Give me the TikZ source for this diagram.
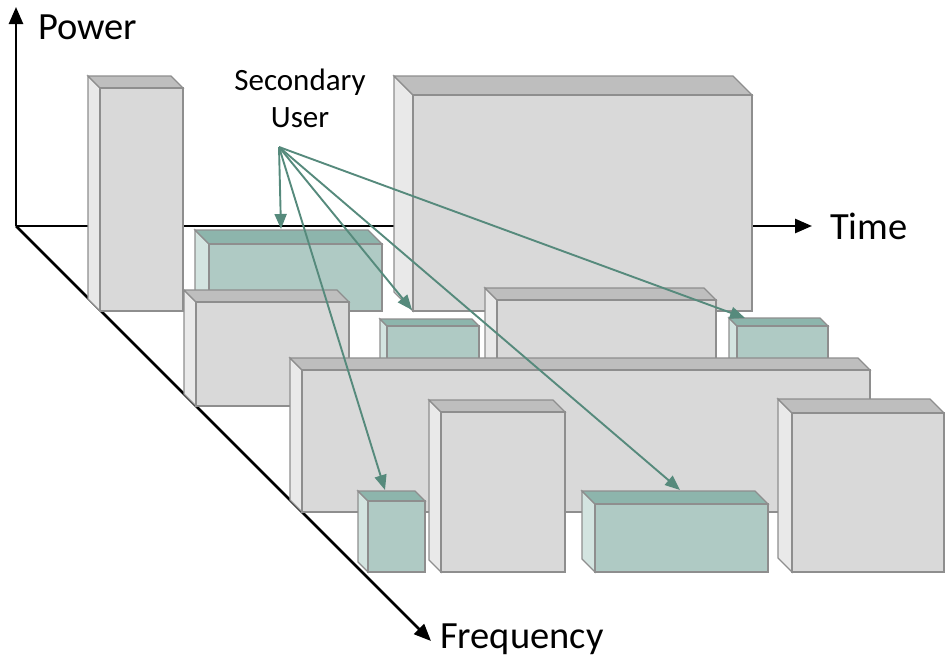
\documentclass[tikz,border=0pt]{standalone}
\usepackage{fontspec}
\setmainfont{Carlito}
\usetikzlibrary{arrows.meta}

% face colours of the spectrum blocks
\definecolor{grayfront}{HTML}{D9D9D9}
\definecolor{graytop}{HTML}{BEBEBE}
\definecolor{grayside}{HTML}{E9E9E9}
\definecolor{greenfront}{HTML}{AFCAC4}
\definecolor{greentop}{HTML}{8DB5AC}
\definecolor{greenside}{HTML}{D3E4E0}
\definecolor{boxline}{HTML}{8E8E8E}
\definecolor{suline}{HTML}{568A7C}

\tikzset{
  boxedge/.style={draw=boxline, line width=1.2pt, line join=miter},
  axisline/.style={line width=2.6pt, black, -{Triangle[length=17pt,width=14pt]}},
  suarrow/.style={line width=1.9pt, suline, -{Triangle[length=15pt,width=12pt]}},
  biglabel/.style={font=\fontsize{38.5}{44}\selectfont, inner sep=0pt},
  sulabel/.style={font=\fontsize{31}{37}\selectfont, inner sep=0pt, align=center}
}

% a block seen in oblique view: #1 palette, front face (#2,#3)-(#4,#5), depth #6
\newcommand\spectrumblock[6]{%
  \filldraw[boxedge, fill=#1side] ({#2-#6},{#3-#6}) -- (#2,#3) -- (#2,#5) -- ({#2-#6},{#5-#6}) -- cycle;
  \filldraw[boxedge, fill=#1top] ({#2-#6},{#3-#6}) -- ({#4-#6},{#3-#6}) -- (#4,#3) -- (#2,#3) -- cycle;
  \filldraw[boxedge, fill=#1front] (#2,#3) rectangle (#4,#5);
}

\begin{document}
\begin{tikzpicture}[x=1pt, y=-1pt]
\useasboundingbox (0,0) rectangle (945,656);

% axes
\coordinate (O) at (16,226);
\coordinate (powertip) at (16,7);
\coordinate (timetip) at (812,226);
\coordinate (freqtip) at (431,641);
\draw[axisline] (O) -- (powertip);
\draw[axisline] (O) -- (timetip);
\draw[axisline] (O) -- (freqtip);

\node[biglabel, anchor=base west] (power) at (38,39) {Power};
\node[biglabel, anchor=base west] (time) at (830,239) {Time};
\node[biglabel, anchor=base west] (freq) at (440,648) {Frequency};

% first row
\spectrumblock{gray}{100}{88}{183}{311}{12}
\spectrumblock{gray}{413}{95}{752}{311}{19}
\spectrumblock{green}{209}{244}{382}{311}{14}
% second row
\spectrumblock{gray}{196}{302}{349}{406}{12}
\spectrumblock{green}{387}{326}{479}{420}{7}
\spectrumblock{gray}{497}{300}{716}{420}{12}
\spectrumblock{green}{737}{326}{828}{420}{8}
% third row
\spectrumblock{gray}{302}{370}{870}{512}{12}
% fourth row
\spectrumblock{green}{368}{501}{425}{572}{10}
\spectrumblock{gray}{441}{412}{565}{572}{12}
\spectrumblock{green}{595}{504}{768}{572}{13}
\spectrumblock{gray}{792}{413}{944}{572}{14}

% secondary user and its spectrum holes
\node[sulabel, anchor=base] (secuser) at (300,127) {Secondary\\User};
\coordinate (su) at (279,147);
\coordinate (holeA) at (281,229);
\coordinate (holeB) at (385,490);
\coordinate (holeC) at (412,310);
\coordinate (holeD) at (680,490);
\coordinate (holeE) at (745,318);
\draw[suarrow] (su) -- (holeA);
\draw[suarrow] (su) -- (holeB);
\draw[suarrow] (su) -- (holeC);
\draw[suarrow] (su) -- (holeD);
\draw[suarrow] (su) -- (holeE);
\end{tikzpicture}
\end{document}
